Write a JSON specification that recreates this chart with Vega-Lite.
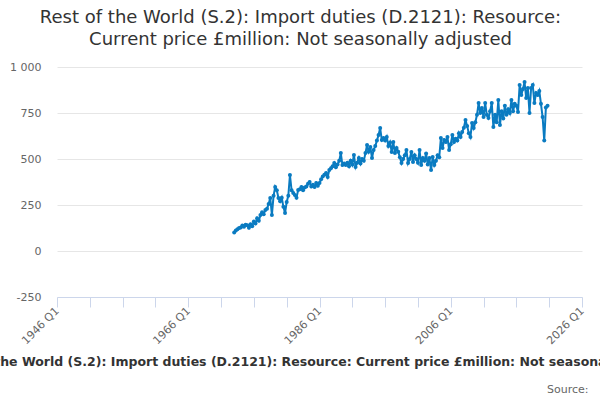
{
  "$schema": "https://vega.github.io/schema/vega-lite/v6.json",
  "width": 525,
  "height": 230,
  "autosize": {"type": "none"},
  "padding": {"left": 57, "top": 67, "right": 18, "bottom": 103},
  "background": "white",
  "config": {
    "font": "DejaVu Sans",
    "view": {"stroke": null}
  },
  "title": {
    "text": ["Rest of the World (S.2): Import duties (D.2121): Resource:", "Current price £million: Not seasonally adjusted"],
    "fontSize": 18,
    "fontWeight": "normal",
    "color": "#333333",
    "lineHeight": 22,
    "anchor": "middle",
    "dx": -19,
    "offset": 12
  },
  "data": {
    "values": [
      {"date": "1973-01-01", "value": 100}, {"date": "1973-04-01", "value": 112}, {"date": "1973-07-01", "value": 118}, {"date": "1973-10-01", "value": 125},
      {"date": "1974-01-01", "value": 128}, {"date": "1974-04-01", "value": 138}, {"date": "1974-07-01", "value": 132}, {"date": "1974-10-01", "value": 142},
      {"date": "1975-01-01", "value": 140}, {"date": "1975-04-01", "value": 126}, {"date": "1975-07-01", "value": 145}, {"date": "1975-10-01", "value": 135},
      {"date": "1976-01-01", "value": 160}, {"date": "1976-04-01", "value": 150}, {"date": "1976-07-01", "value": 178}, {"date": "1976-10-01", "value": 165},
      {"date": "1977-01-01", "value": 195}, {"date": "1977-04-01", "value": 210}, {"date": "1977-07-01", "value": 200}, {"date": "1977-10-01", "value": 223},
      {"date": "1978-01-01", "value": 230}, {"date": "1978-04-01", "value": 255}, {"date": "1978-07-01", "value": 288}, {"date": "1978-10-01", "value": 196},
      {"date": "1979-01-01", "value": 300}, {"date": "1979-04-01", "value": 348}, {"date": "1979-07-01", "value": 330}, {"date": "1979-10-01", "value": 288},
      {"date": "1980-01-01", "value": 270}, {"date": "1980-04-01", "value": 290}, {"date": "1980-07-01", "value": 240}, {"date": "1980-10-01", "value": 206},
      {"date": "1981-01-01", "value": 266}, {"date": "1981-04-01", "value": 300}, {"date": "1981-07-01", "value": 413}, {"date": "1981-10-01", "value": 330},
      {"date": "1982-01-01", "value": 315}, {"date": "1982-04-01", "value": 304}, {"date": "1982-07-01", "value": 290}, {"date": "1982-10-01", "value": 331},
      {"date": "1983-01-01", "value": 335}, {"date": "1983-04-01", "value": 348}, {"date": "1983-07-01", "value": 330}, {"date": "1983-10-01", "value": 345},
      {"date": "1984-01-01", "value": 350}, {"date": "1984-04-01", "value": 365}, {"date": "1984-07-01", "value": 375}, {"date": "1984-10-01", "value": 350},
      {"date": "1985-01-01", "value": 360}, {"date": "1985-04-01", "value": 348}, {"date": "1985-07-01", "value": 370}, {"date": "1985-10-01", "value": 355},
      {"date": "1986-01-01", "value": 370}, {"date": "1986-04-01", "value": 390}, {"date": "1986-07-01", "value": 405}, {"date": "1986-10-01", "value": 415},
      {"date": "1987-01-01", "value": 424}, {"date": "1987-04-01", "value": 402}, {"date": "1987-07-01", "value": 440}, {"date": "1987-10-01", "value": 450},
      {"date": "1988-01-01", "value": 460}, {"date": "1988-04-01", "value": 478}, {"date": "1988-07-01", "value": 455}, {"date": "1988-10-01", "value": 470},
      {"date": "1989-01-01", "value": 490}, {"date": "1989-04-01", "value": 532}, {"date": "1989-07-01", "value": 467}, {"date": "1989-10-01", "value": 475},
      {"date": "1990-01-01", "value": 467}, {"date": "1990-04-01", "value": 480}, {"date": "1990-07-01", "value": 460}, {"date": "1990-10-01", "value": 490},
      {"date": "1991-01-01", "value": 470}, {"date": "1991-04-01", "value": 522}, {"date": "1991-07-01", "value": 457}, {"date": "1991-10-01", "value": 480},
      {"date": "1992-01-01", "value": 505}, {"date": "1992-04-01", "value": 475}, {"date": "1992-07-01", "value": 500}, {"date": "1992-10-01", "value": 490},
      {"date": "1993-01-01", "value": 532}, {"date": "1993-04-01", "value": 576}, {"date": "1993-07-01", "value": 540}, {"date": "1993-10-01", "value": 565},
      {"date": "1994-01-01", "value": 505}, {"date": "1994-04-01", "value": 549}, {"date": "1994-07-01", "value": 570}, {"date": "1994-10-01", "value": 600},
      {"date": "1995-01-01", "value": 630}, {"date": "1995-04-01", "value": 668}, {"date": "1995-07-01", "value": 603}, {"date": "1995-10-01", "value": 614},
      {"date": "1996-01-01", "value": 600}, {"date": "1996-04-01", "value": 620}, {"date": "1996-07-01", "value": 570}, {"date": "1996-10-01", "value": 590},
      {"date": "1997-01-01", "value": 538}, {"date": "1997-04-01", "value": 592}, {"date": "1997-07-01", "value": 532}, {"date": "1997-10-01", "value": 560},
      {"date": "1998-01-01", "value": 540}, {"date": "1998-04-01", "value": 510}, {"date": "1998-07-01", "value": 478}, {"date": "1998-10-01", "value": 500},
      {"date": "1999-01-01", "value": 520}, {"date": "1999-04-01", "value": 549}, {"date": "1999-07-01", "value": 478}, {"date": "1999-10-01", "value": 500},
      {"date": "2000-01-01", "value": 538}, {"date": "2000-04-01", "value": 484}, {"date": "2000-07-01", "value": 520}, {"date": "2000-10-01", "value": 500},
      {"date": "2001-01-01", "value": 480}, {"date": "2001-04-01", "value": 549}, {"date": "2001-07-01", "value": 467}, {"date": "2001-10-01", "value": 505},
      {"date": "2002-01-01", "value": 490}, {"date": "2002-04-01", "value": 530}, {"date": "2002-07-01", "value": 470}, {"date": "2002-10-01", "value": 505},
      {"date": "2003-01-01", "value": 440}, {"date": "2003-04-01", "value": 511}, {"date": "2003-07-01", "value": 467}, {"date": "2003-10-01", "value": 490},
      {"date": "2004-01-01", "value": 520}, {"date": "2004-04-01", "value": 510}, {"date": "2004-07-01", "value": 614}, {"date": "2004-10-01", "value": 560},
      {"date": "2005-01-01", "value": 603}, {"date": "2005-04-01", "value": 592}, {"date": "2005-07-01", "value": 620}, {"date": "2005-10-01", "value": 549},
      {"date": "2006-01-01", "value": 580}, {"date": "2006-04-01", "value": 630}, {"date": "2006-07-01", "value": 592}, {"date": "2006-10-01", "value": 610},
      {"date": "2007-01-01", "value": 600}, {"date": "2007-04-01", "value": 640}, {"date": "2007-07-01", "value": 620}, {"date": "2007-10-01", "value": 647},
      {"date": "2008-01-01", "value": 670}, {"date": "2008-04-01", "value": 712}, {"date": "2008-07-01", "value": 680}, {"date": "2008-10-01", "value": 640},
      {"date": "2009-01-01", "value": 620}, {"date": "2009-04-01", "value": 696}, {"date": "2009-07-01", "value": 668}, {"date": "2009-10-01", "value": 700},
      {"date": "2010-01-01", "value": 740}, {"date": "2010-04-01", "value": 804}, {"date": "2010-07-01", "value": 750}, {"date": "2010-10-01", "value": 777},
      {"date": "2011-01-01", "value": 728}, {"date": "2011-04-01", "value": 804}, {"date": "2011-07-01", "value": 740}, {"date": "2011-10-01", "value": 723},
      {"date": "2012-01-01", "value": 760}, {"date": "2012-04-01", "value": 804}, {"date": "2012-07-01", "value": 674}, {"date": "2012-10-01", "value": 740},
      {"date": "2013-01-01", "value": 700}, {"date": "2013-04-01", "value": 820}, {"date": "2013-07-01", "value": 685}, {"date": "2013-10-01", "value": 760},
      {"date": "2014-01-01", "value": 720}, {"date": "2014-04-01", "value": 790}, {"date": "2014-07-01", "value": 740}, {"date": "2014-10-01", "value": 770},
      {"date": "2015-01-01", "value": 750}, {"date": "2015-04-01", "value": 820}, {"date": "2015-07-01", "value": 760}, {"date": "2015-10-01", "value": 800},
      {"date": "2016-01-01", "value": 790}, {"date": "2016-04-01", "value": 755}, {"date": "2016-07-01", "value": 902}, {"date": "2016-10-01", "value": 848},
      {"date": "2017-01-01", "value": 880}, {"date": "2017-04-01", "value": 918}, {"date": "2017-07-01", "value": 832}, {"date": "2017-10-01", "value": 886},
      {"date": "2018-01-01", "value": 750}, {"date": "2018-04-01", "value": 886}, {"date": "2018-07-01", "value": 902}, {"date": "2018-10-01", "value": 804},
      {"date": "2019-01-01", "value": 859}, {"date": "2019-04-01", "value": 848}, {"date": "2019-07-01", "value": 870}, {"date": "2019-10-01", "value": 800},
      {"date": "2020-01-01", "value": 728}, {"date": "2020-04-01", "value": 600}, {"date": "2020-07-01", "value": 780}, {"date": "2020-10-01", "value": 790}
    ]
  },
  "layer": [
    {
      "mark": {"type": "line", "color": "#0a7bc1", "strokeWidth": 2},
      "encoding": {
        "x": {
          "field": "date",
          "type": "temporal",
          "scale": {"domain": [{"year": 1946, "month": 1, "date": 1}, {"year": 2026, "month": 1, "date": 1}]},
          "axis": {
            "orient": "bottom",
            "values": [
              {"year": 1946}, {"year": 1951}, {"year": 1956}, {"year": 1961}, {"year": 1966},
              {"year": 1971}, {"year": 1976}, {"year": 1981}, {"year": 1986}, {"year": 1991},
              {"year": 1996}, {"year": 2001}, {"year": 2006}, {"year": 2011}, {"year": 2016},
              {"year": 2021}, {"year": 2026}
            ],
            "labelExpr": "year(datum.value) % 20 == 6 ? timeFormat(datum.value, '%Y Q%q') : ''",
            "labelAngle": -45,
            "labelAlign": "right",
            "labelBaseline": "middle",
            "labelOverlap": false,
            "labelFontSize": 11,
            "labelColor": "#666666",
            "labelPadding": 2,
            "grid": false,
            "domainColor": "#ccd6eb",
            "tickColor": "#ccd6eb",
            "tickSize": 10,
            "title": "Rest of the World (S.2): Import duties (D.2121): Resource: Current price £million: Not seasonally adjusted",
            "titleFontSize": 12.5,
            "titleFontWeight": "bold",
            "titleColor": "#333333",
            "titlePadding": 10,
            "titleX": 257
          }
        },
        "y": {
          "field": "value",
          "type": "quantitative",
          "scale": {"domain": [-250, 1000], "nice": false},
          "axis": {
            "values": [-250, 0, 250, 500, 750, 1000],
            "labelExpr": "abs(datum.value) >= 1000 ? replace(format(datum.value, ','), ',', ' ') : toString(datum.value)",
            "labelFontSize": 11,
            "labelColor": "#666666",
            "labelPadding": 16,
            "domain": false,
            "ticks": false,
            "gridColor": "#e6e6e6",
            "title": null
          }
        }
      }
    },
    {
      "mark": {"type": "point", "filled": true, "opacity": 1, "color": "#0a7bc1", "size": 16},
      "encoding": {
        "x": {
          "field": "date",
          "type": "temporal",
          "axis": {
            "orient": "bottom",
            "labels": false,
            "ticks": false,
            "domain": false,
            "grid": false,
            "title": "Source:",
            "titleFontSize": 11,
            "titleFontWeight": "normal",
            "titleColor": "#666666",
            "titleAlign": "right",
            "titleAnchor": "end",
            "titleX": 531,
            "titleY": 86
          }
        },
        "y": {"field": "value", "type": "quantitative"}
      }
    }
  ],
  "resolve": {"axis": {"x": "independent"}}
}
